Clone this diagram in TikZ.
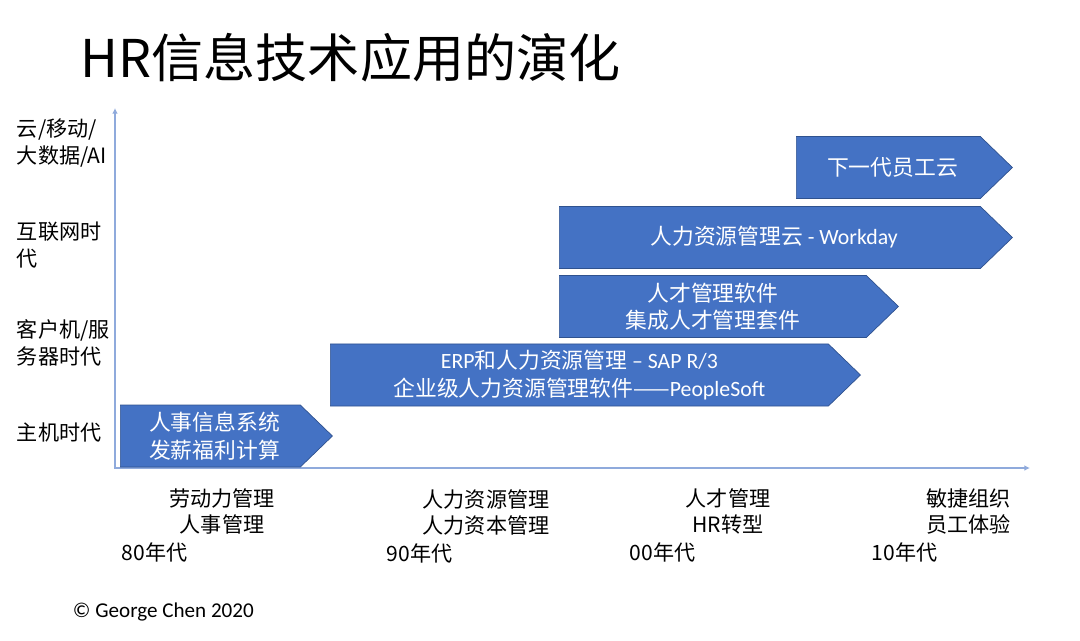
\documentclass[tikz,border=0pt]{standalone}
\usepackage{fontspec}
\setmainfont{Noto Sans CJK SC}
\newfontfamily\lat{Carlito}
\usetikzlibrary{arrows.meta, shapes.symbols}
\definecolor{hrblue}{HTML}{4472C4}
\definecolor{hredge}{HTML}{2F528F}
\definecolor{axisblue}{HTML}{8FAADC}
\tikzset{
  era/.style={signal, signal to=east, signal pointer angle=88, fill=hrblue, draw=hredge,
    line width=0.5pt, text=white, minimum height=1.55cm, inner sep=0pt, anchor=west,
    align=center, font=\fontsize{15.5}{19.5}\selectfont},
  tier/.style={anchor=west, align=left, font=\fontsize{15}{19}\selectfont},
  trend/.style={align=center, font=\fontsize{15}{19}\selectfont},
  decade/.style={anchor=west, font=\fontsize{15}{18}\selectfont},
}
\begin{document}
\begin{tikzpicture}[x=0.025cm, y=-0.025cm, >={Latex[length=4pt,width=4pt]}]
\useasboundingbox (0,0) rectangle (1080,640);
% Title
\node[anchor=west, font=\fontsize{37}{40}\selectfont] (title) at (76,58) {HR信息技术应用的演化};
% Axes
\coordinate (ytop) at (115,108);
\coordinate (xend) at (1030,468);
\draw[axisblue, line width=0.9pt, <->] (ytop) |- (xend);
% Technology tiers
\node[tier] (cloud) at (12,143) {云/移动/\\大数据/AI};
\node[tier] (web) at (12,245) {互联网时\\代};
\node[tier] (cs) at (12,343) {客户机/服\\务器时代};
\node[tier] (mf) at (12,432) {主机时代};
% Systems
\node[era, minimum width=5.3cm] (hris) at (120,436) {\hspace*{6pt}人事信息系统\\\hspace*{6pt}发薪福利计算};
\node[era, minimum width=13.25cm] (erp) at (330,375) {{\lat ERP}和人力资源管理 {\lat – SAP R/3}\\企业级人力资源管理软件——{\lat PeopleSoft}};
\node[era, minimum width=8.475cm] (talent) at (559,306.5) {人才管理软件\\集成人才管理套件};
\node[era, minimum width=11.325cm] (workday) at (559,237.5) {\hspace*{6pt}人力资源管理云 {\lat - Workday}};
\node[era, minimum width=5.4cm] (nextgen) at (796,167.5) {\hspace*{6pt}下一代员工云};
% HR practice by decade
\node[trend] (labor) at (222,511.5) {劳动力管理\\人事管理};
\node[trend] (hrm) at (486,512.5) {人力资源管理\\人力资本管理};
\node[trend] (tm) at (728,511.5) {人才管理\\HR转型};
\node[trend, align=right, anchor=east] (agile) at (1016,511.5) {敏捷组织\\员工体验};
\node[decade] (d80) at (117,552) {80年代};
\node[decade] (d90) at (382,553) {90年代};
\node[decade] (d00) at (625,552) {00年代};
\node[decade] (d10) at (867,552) {10年代};
% Footer
\node[anchor=west, font=\lat\fontsize{15}{18}\selectfont] (copy) at (68,612) {© George Chen 2020};
\end{tikzpicture}
\end{document}
